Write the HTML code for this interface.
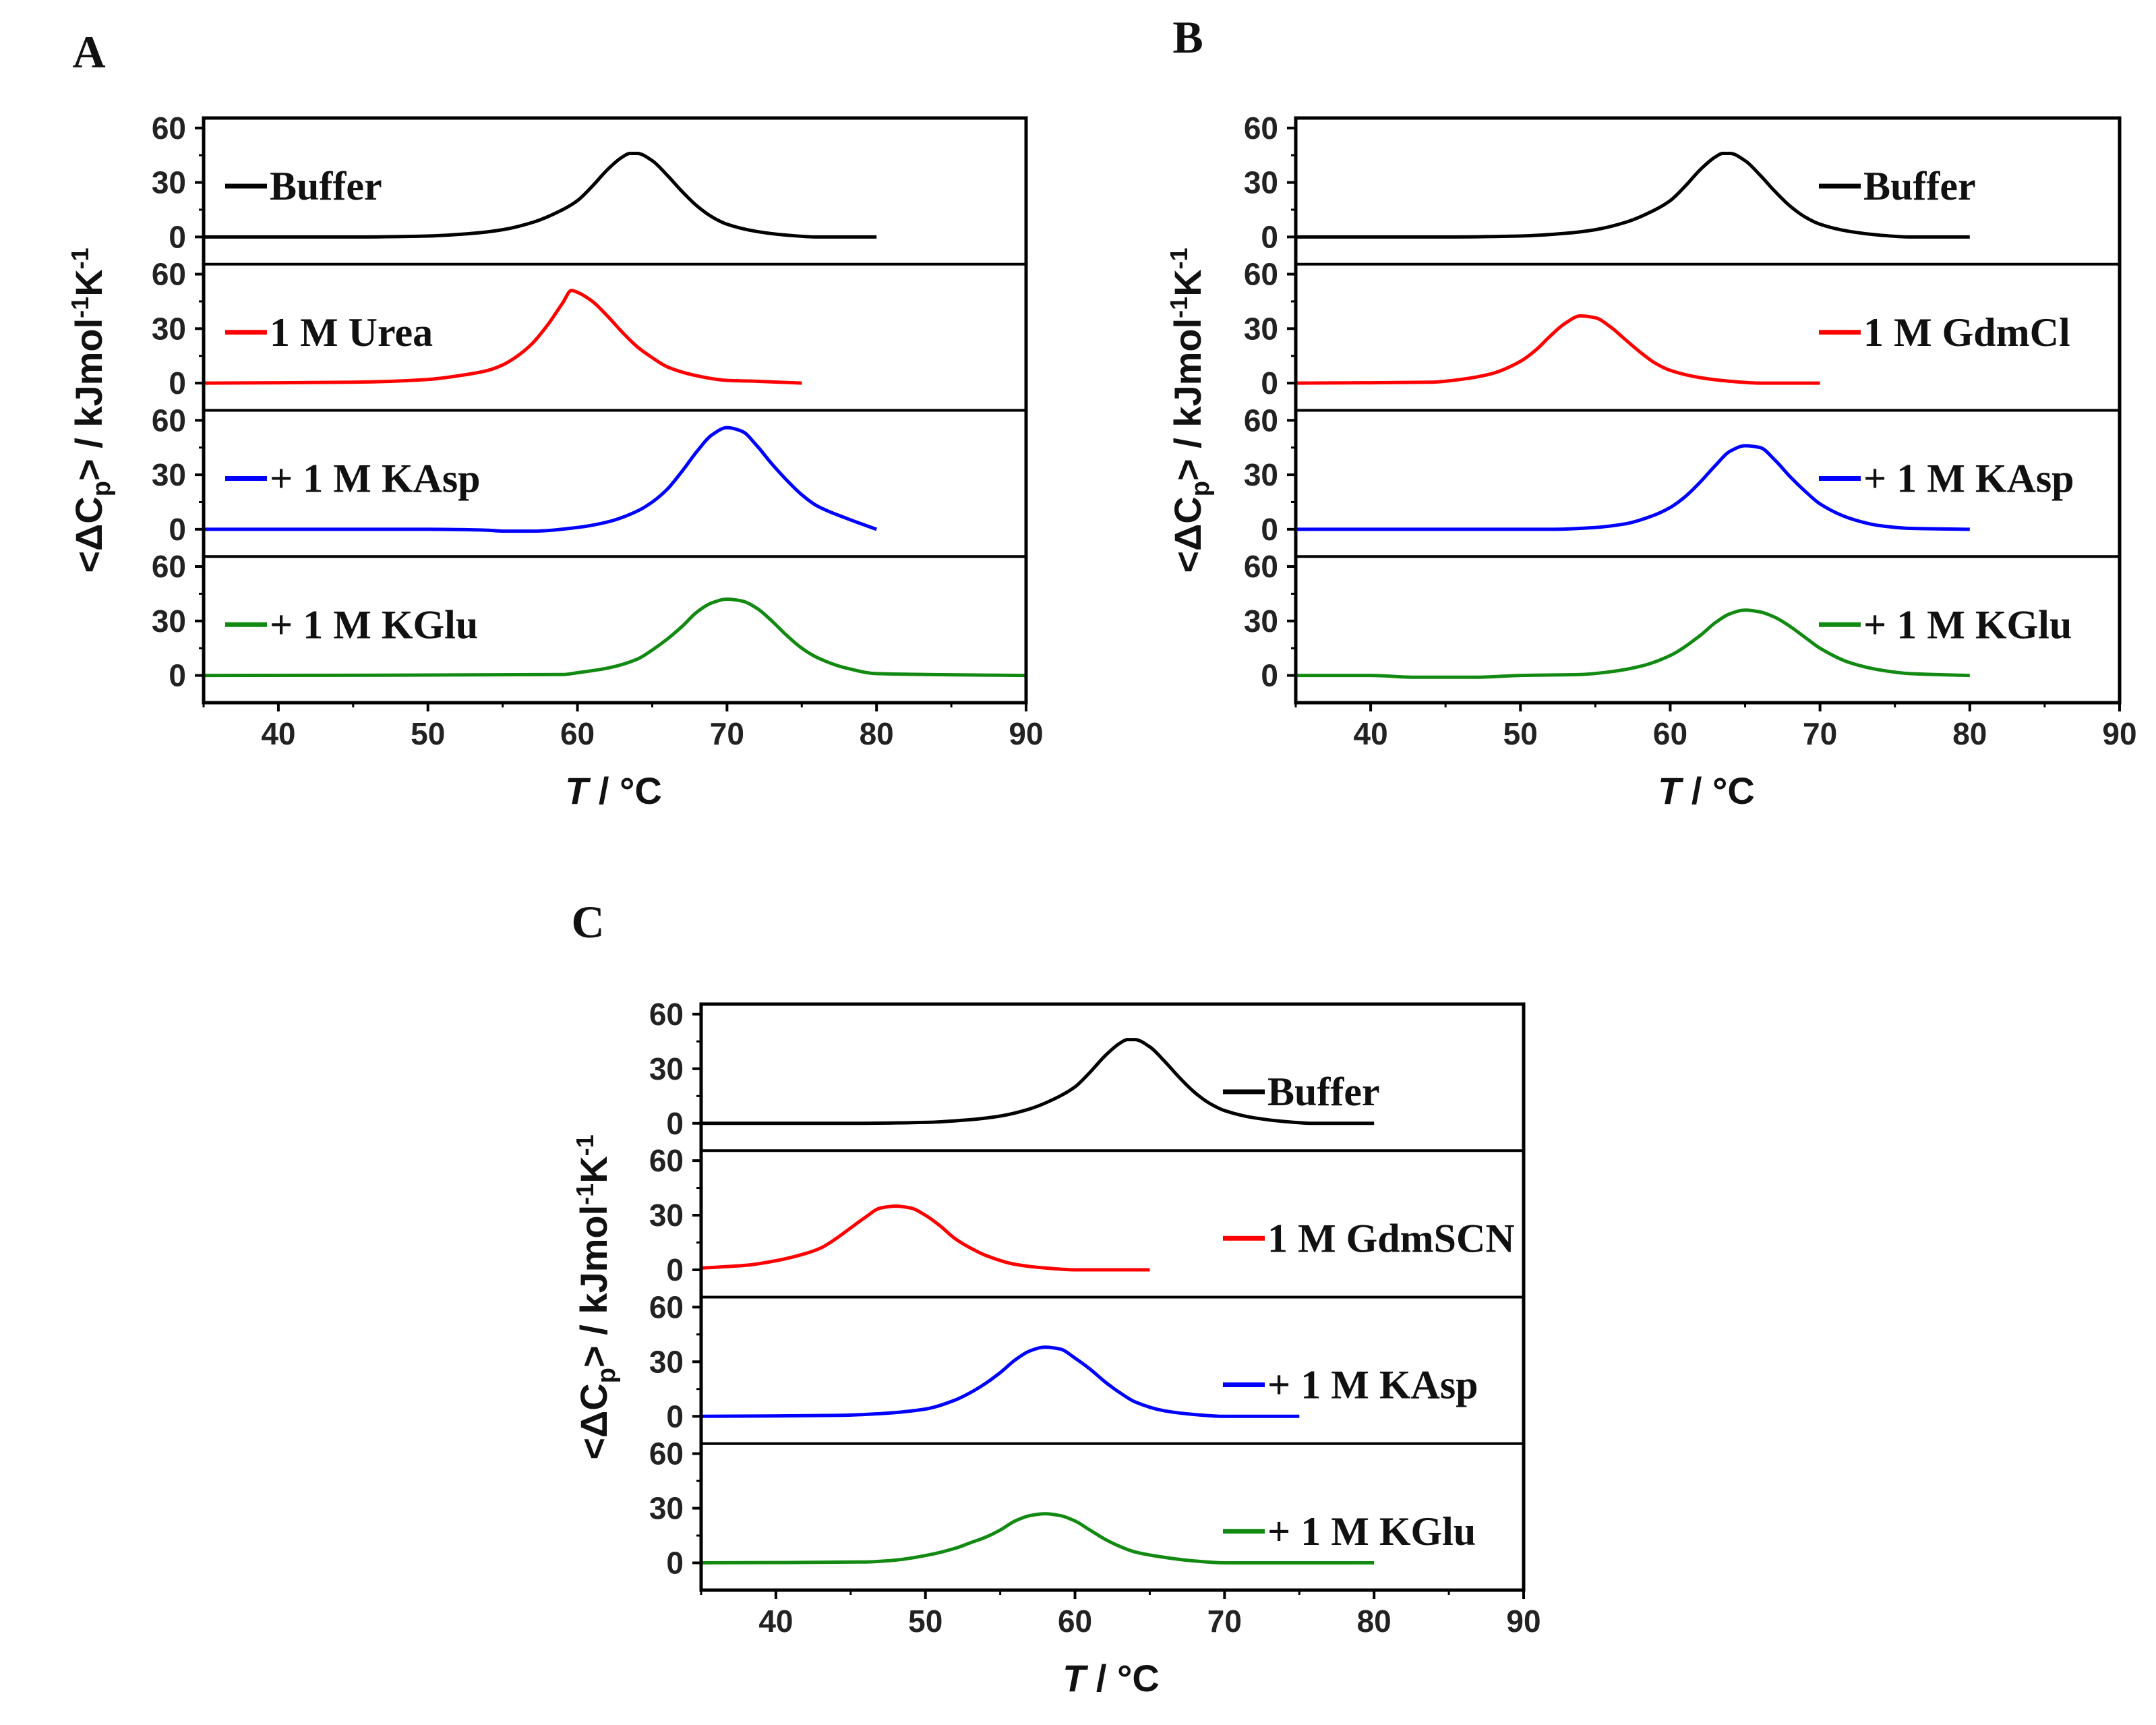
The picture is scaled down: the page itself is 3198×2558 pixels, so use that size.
<!DOCTYPE html>
<html><head><meta charset="utf-8">
<style>
html,body{margin:0;padding:0;background:#fff;}
svg{display:block;}
.tick{font-family:"Liberation Sans",Arial,sans-serif;font-weight:bold;font-size:46px;fill:#222;}
.leg{font-family:"Liberation Serif","Times New Roman",serif;font-weight:bold;font-size:60px;fill:#111;}
.ttl{font-family:"Liberation Sans",Arial,sans-serif;font-weight:bold;font-size:56px;fill:#111;}
.plab{font-family:"Liberation Serif","Times New Roman",serif;font-weight:bold;font-size:68px;fill:#111;}
</style></head>
<body>
<svg id="fig" width="3198" height="2558" viewBox="0 0 3198 2558" xmlns="http://www.w3.org/2000/svg"></svg>
<script>
// ---- data (T in °C, ΔCp in kJ/mol/K) ----
const xTicks = [40, 50, 60, 70, 80, 90];
const yTicks = [0, 30, 60];
const bufT = [35,45,50,53,55,57,59,60,61,62,63,63.5,64,65,66,67,68,69,70,72,74,76,80];
const bufV = [0,0,0.5,2,4,8,15,20,28,37,44,46,46,42,34,25,17,11,7,3,1,0,0];
const ureaT = [35,45,50,52,54,55,56,57,58,59,59.6,60,61,62,63,64,65,66,68,70,72,75];
const ureaV = [0,0.5,2,4,7,10,15,22,32,44,51,50,45,37,28,20,14,9,4,1.5,1,0];
const aKaspT = [35,50,54,55,57,60,62,64,65,66,67,68,69,70,71,72,73,74,75,76,78,80];
const aKaspV = [0,0,-0.5,-1,-1,1,4,10,15,22,32,43,52,56,54,46,36,27,19,13,6,0];
const aKgluT = [35,59,60,62,64,65,66,67,68,69,70,71,72,73,74,75,76,78,80,90];
const aKgluV = [0,0.5,1.5,4,9,14,20,27,35,40,42,41,37,30,22,15,10,4,1,0];
const gdmT = [35,44,46,48,50,51,52,53,54,55,56,57,58,59,60,62,64,66,70];
const gdmV = [0,0.5,2,5,12,18,26,33,37,36,31,24,17,11,7,3,1,0,0];
const bKaspT = [35,52,55,57,59,60,61,62,63,64,65,66,67,68,69,70,72,74,76,80];
const bKaspV = [0,0,1,3,8,12,18,26,35,43,46,45,38,29,21,14,6,2,0.5,0];
const bKgluT = [35,40,43,47,50,54,56,58,60,62,63,64,65,66,67,68,69,70,72,74,76,80];
const bKgluV = [0,0,-1,-1,0,0.5,2,5,11,22,29,34,36,35,32,27,21,15,7,3,1,0];
const scnT = [35,38,40,42,43,44,45,46,47,48,49,50,51,52,53,54,56,58,60,65];
const scnV = [1,2.5,5,9,12,17,23,29,34,35,34,30,24,17,12,8,3,1,0,0];
const cKaspT = [35,44,47,50,52,53,54,55,56,57,58,59,60,61,62,63,64,66,68,70,75];
const cKaspV = [0,0.5,1.5,4,9,13,18,24,31,36,38,37,32,26,19,13,8,3,1,0,0];
const cKgluT = [35,46,48,50,52,53,54,55,56,57,58,59,60,61,62,63,64,66,68,70,80];
const cKgluV = [0,0.5,1.5,4,8,11,14,18,23,26,27,26,23,18,13,9,6,3,1,0,0];

const NS = "http://www.w3.org/2000/svg";
const svg = document.getElementById('fig');
function mk(tag, attrs, parent){
  const e = document.createElementNS(NS, tag);
  for (const k in attrs) e.setAttribute(k, attrs[k]);
  (parent||svg).appendChild(e);
  return e;
}
const COL = {k:'#000', r:'#ff0000', b:'#0000ff', g:'#128a12'};

const panels = [
  {id:'a', letter:'A', lx:132, ly:100, left:302, right:1522, top:175, bottom:1042, legX:334, legDy:101, ytx:133,
   series:[[bufT,bufV,'k','Buffer'],[ureaT,ureaV,'r','1 M Urea'],[aKaspT,aKaspV,'b','+ 1 M KAsp'],[aKgluT,aKgluV,'g','+ 1 M KGlu']]},
  {id:'b', letter:'B', lx:1762, ly:78, left:1922, right:3144, top:175, bottom:1042, legX:2698, legDy:101, ytx:1763,
   series:[[bufT,bufV,'k','Buffer'],[gdmT,gdmV,'r','1 M GdmCl'],[bKaspT,bKaspV,'b','+ 1 M KAsp'],[bKgluT,bKgluV,'g','+ 1 M KGlu']]},
  {id:'c', letter:'C', lx:872, ly:1390, left:1040, right:2260, top:1489, bottom:2358, legX:1814, legDy:130, ytx:882,
   series:[[bufT,bufV,'k','Buffer'],[scnT,scnV,'r','1 M GdmSCN'],[cKaspT,cKaspV,'b','+ 1 M KAsp'],[cKgluT,cKgluV,'g','+ 1 M KGlu']]}
];

// monotone cubic (Fritsch-Carlson) path
function pathFrom(pts){
  const n = pts.length;
  const dx=[], m=[], t=[];
  for (let i=0;i<n-1;i++){ dx[i]=pts[i+1][0]-pts[i][0]; m[i]=(pts[i+1][1]-pts[i][1])/dx[i]; }
  t[0]=m[0]; t[n-1]=m[n-2];
  for (let i=1;i<n-1;i++){
    if (m[i-1]*m[i] <= 0) t[i]=0;
    else { const w1=2*dx[i]+dx[i-1], w2=dx[i]+2*dx[i-1]; t[i]=(w1+w2)/(w1/m[i-1]+w2/m[i]); }
  }
  let d = 'M' + pts[0][0].toFixed(1) + ' ' + pts[0][1].toFixed(1);
  for (let i=0;i<n-1;i++){
    const h=dx[i];
    d += ' C'+(pts[i][0]+h/3).toFixed(1)+' '+(pts[i][1]+t[i]*h/3).toFixed(1)+' '+(pts[i+1][0]-h/3).toFixed(1)+' '+(pts[i+1][1]-t[i+1]*h/3).toFixed(1)+' '+pts[i+1][0].toFixed(1)+' '+pts[i+1][1].toFixed(1);
  }
  return d;
}

panels.forEach(P => {
  const g = mk('g', {});
  
  
  const xS = t => P.left + (t - 35) * (P.right - P.left) / 55;
  const subH = (P.bottom - P.top) / 4;
  const yMin = -15, yMax = 65.5;

  const lt = mk('text', {x:P.lx, y:P.ly, class:'plab', 'text-anchor':'middle'}, g);
  lt.textContent = P.letter;
  
  

  P.series.forEach((s, i) => {
    const top = P.top + i * subH;
    const yS = v => top + (yMax - v) / (yMax - yMin) * subH;
    yTicks.forEach(v => {
      const tk = mk('line', {x1:P.left-13, x2:P.left, y1:yS(v), y2:yS(v), stroke:'#000', 'stroke-width':4}, g);
      
      
      const tl = mk('text', {x:P.left-26, y:yS(v)+16, class:'tick', 'text-anchor':'end'}, g);
      tl.textContent = v;
      
      
    });
    [15, 45].forEach(v => {
      mk('line', {x1:P.left-7, x2:P.left, y1:yS(v), y2:yS(v), stroke:'#000', 'stroke-width':3}, g);
    });
    const pts = s[0].map((t, j) => [xS(t), yS(s[1][j])]);
    const c = mk('path', {d:pathFrom(pts), fill:'none', stroke:COL[s[2]], 'stroke-width':5, 'stroke-linejoin':'round'}, g);
    
    
    const ly = top + P.legDy;
    const ll = mk('line', {x1:P.legX, x2:P.legX+62, y1:ly, y2:ly, stroke:COL[s[2]], 'stroke-width':7}, g);
    
    
    const lx = mk('text', {x:P.legX+66, y:ly+20, class:'leg'}, g);
    lx.textContent = s[3];
    
    
    if (i > 0) mk('line', {x1:P.left, x2:P.right, y1:top, y2:top, stroke:'#000', 'stroke-width':4}, g);
  });

  const fr = mk('rect', {x:P.left, y:P.top, width:P.right-P.left, height:P.bottom-P.top, fill:'none', stroke:'#000', 'stroke-width':5}, g);
  
  

  xTicks.forEach(t => {
    const tk = mk('line', {x1:xS(t), x2:xS(t), y1:P.bottom, y2:P.bottom+13, stroke:'#000', 'stroke-width':4}, g);
    
    
    mk('line', {x1:xS(t-5), x2:xS(t-5), y1:P.bottom, y2:P.bottom+7, stroke:'#000', 'stroke-width':3}, g);
    const tl = mk('text', {x:xS(t), y:P.bottom+62, class:'tick', 'text-anchor':'middle'}, g);
    tl.textContent = t;
    
    
  });

  const xt = mk('text', {x:(P.left+P.right)/2 - 2, y:P.bottom+150, class:'ttl', 'text-anchor':'middle'}, g);
  xt.innerHTML = '<tspan font-style="italic">T</tspan> / °C';
  
  

  const cy = (P.top + P.bottom) / 2;
  const yt = mk('text', {x:P.ytx, y:cy, class:'ttl', 'text-anchor':'middle', transform:'rotate(-90 '+P.ytx+' '+cy+') translate(0 18)'}, g);
  yt.innerHTML = '&lt;ΔC<tspan font-size="38" dy="12">p</tspan><tspan dy="-12">&gt; / kJmol</tspan><tspan font-size="36" dy="-20">-1</tspan><tspan dy="20">K</tspan><tspan font-size="36" dy="-20">-1</tspan>';
  
  
});
</script>
</body></html>
